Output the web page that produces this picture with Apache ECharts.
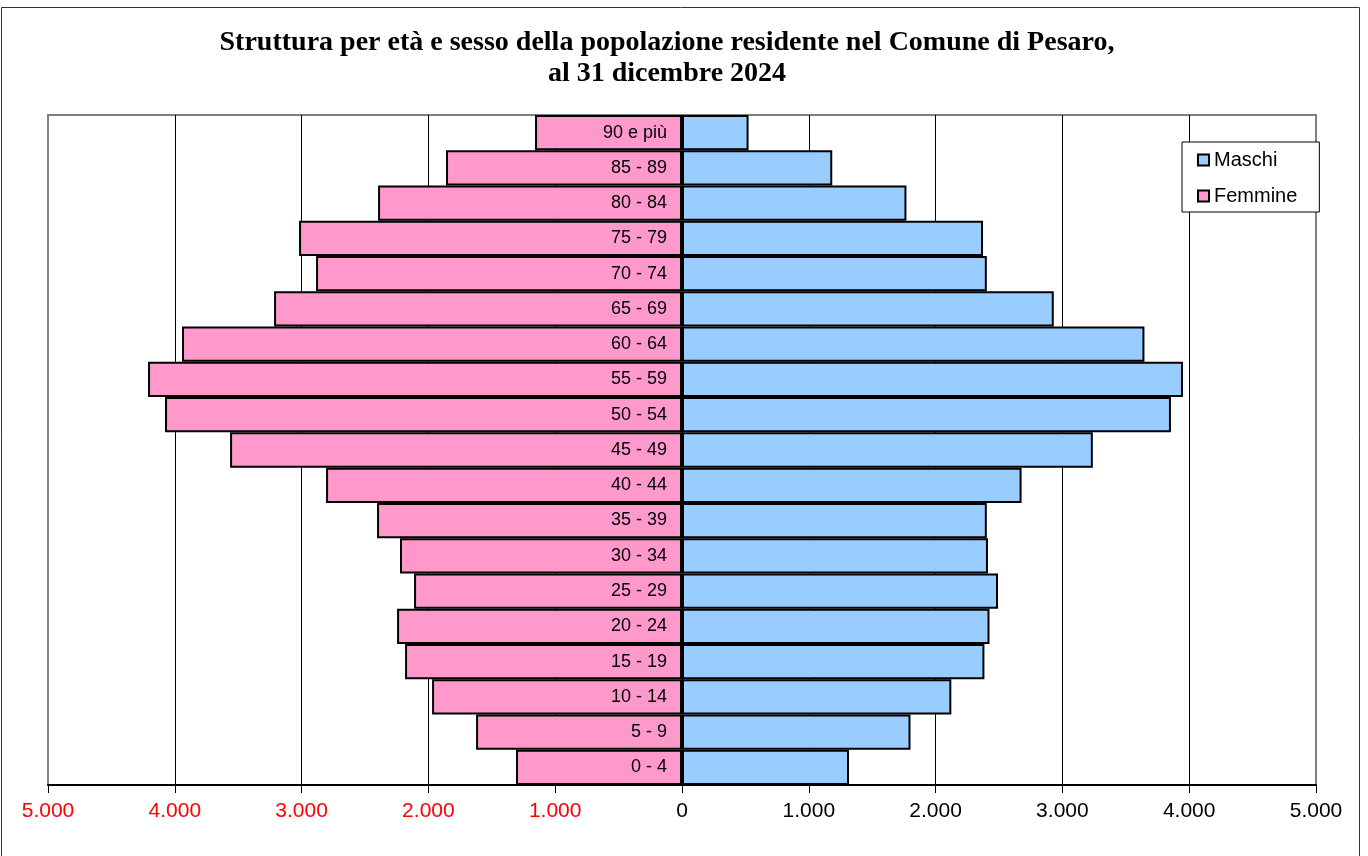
<!DOCTYPE html>
<html>
<head>
<meta charset="utf-8">
<script src="https://cdn.jsdelivr.net/npm/echarts@6/dist/echarts.min.js"></script>
<style>
html,body{margin:0;padding:0;background:#fff;}
#chart{width:1368px;height:856px;}
</style>
</head>
<body>
<div id="chart"></div>
<script>
const titleText = 'Struttura per età e sesso della popolazione residente nel Comune di Pesaro,\nal 31 dicembre 2024';
const categories = ['0 - 4','5 - 9','10 - 14','15 - 19','20 - 24','25 - 29','30 - 34','35 - 39','40 - 44','45 - 49','50 - 54','55 - 59','60 - 64','65 - 69','70 - 74','75 - 79','80 - 84','85 - 89','90 e più'];
const maschi = [1317,1802,2124,2385,2425,2492,2413,2404,2678,3240,3856,3951,3647,2932,2404,2374,1770,1185,525];
const femmine = [1309,1624,1971,2184,2247,2113,2224,2405,2807,3564,4077,4211,3943,3217,2886,3020,2397,1861,1159];
const xTicksMin = -5000, xTicksMax = 5000, xTickStep = 1000;

function fmt(v){
  const a = Math.abs(v);
  return String(a).replace(/\B(?=(\d{3})+(?!\d))/g, '.');
}

const chart = echarts.init(document.getElementById('chart'), null, {renderer:'canvas'});
chart.setOption({
  backgroundColor:'#ffffff',
  animation:false,
  title:{
    text:titleText,
    left:667,
    textAlign:'center',
    top:27,
    padding:0,
    textStyle:{fontFamily:'Liberation Serif',fontWeight:'bold',fontSize:28,lineHeight:31,color:'#000'}
  },
  graphic:[{
    type:'rect',
    shape:{x:1.5,y:7.5,width:1358,height:900},
    style:{fill:'none',stroke:'#333',lineWidth:1},
    z:-10,silent:true
  }],
  legend:{
    orient:'vertical',
    left:1182, top:142,
    padding:[8,22,6,15],
    itemGap:16,
    itemWidth:11, itemHeight:11,
    icon:'rect',
    borderColor:'#000', borderWidth:1,
    backgroundColor:'#fff',
    data:['Maschi','Femmine'],
    textStyle:{fontFamily:'Liberation Sans',fontSize:20,color:'#000'},
    itemStyle:{borderColor:'#000',borderWidth:2}
  },
  grid:{
    left:48, right:52, top:115, bottom:71,
    containLabel:false,
    outerBoundsMode:'none',
    show:true, borderColor:'#808080', borderWidth:2, backgroundColor:'#fff'
  },
  xAxis:{
    type:'value',
    min:xTicksMin, max:xTicksMax, interval:xTickStep,
    axisLine:{show:true,lineStyle:{color:'#000',width:2}},
    axisTick:{show:true,length:8,lineStyle:{color:'#000',width:1}},
    splitLine:{show:true,showMinLine:false,showMaxLine:false,lineStyle:{color:'#000',width:1}},
    axisLabel:{
      margin:16,
      fontFamily:'Liberation Sans',fontSize:21,
      formatter:function(v){return fmt(v);},
      color:function(v){return Number(v) < 0 ? '#ff0000' : '#000000';}
    }
  },
  yAxis:{
    type:'category',
    data:categories,
    axisLine:{show:false},
    axisTick:{show:false},
    splitLine:{show:false},
    axisLabel:{show:false}
  },
  series:[
    {
      name:'Maschi',type:'bar',
      data:maschi,
      z:3,
      barCategoryGap:'0%', barGap:'-100%',
      itemStyle:{color:'#99ccff',borderColor:'#000',borderWidth:2},
      label:{show:true,position:'left',distance:15,formatter:'{b}',fontFamily:'Liberation Sans',fontSize:18,color:'#000'}
    },
    {
      name:'Femmine',type:'bar',
      data:femmine.map(v=>-v),
      z:2,
      barCategoryGap:'0%', barGap:'-100%',
      itemStyle:{color:'#ff99cc',borderColor:'#000',borderWidth:2}
    }
  ]
});
</script>
</body>
</html>
